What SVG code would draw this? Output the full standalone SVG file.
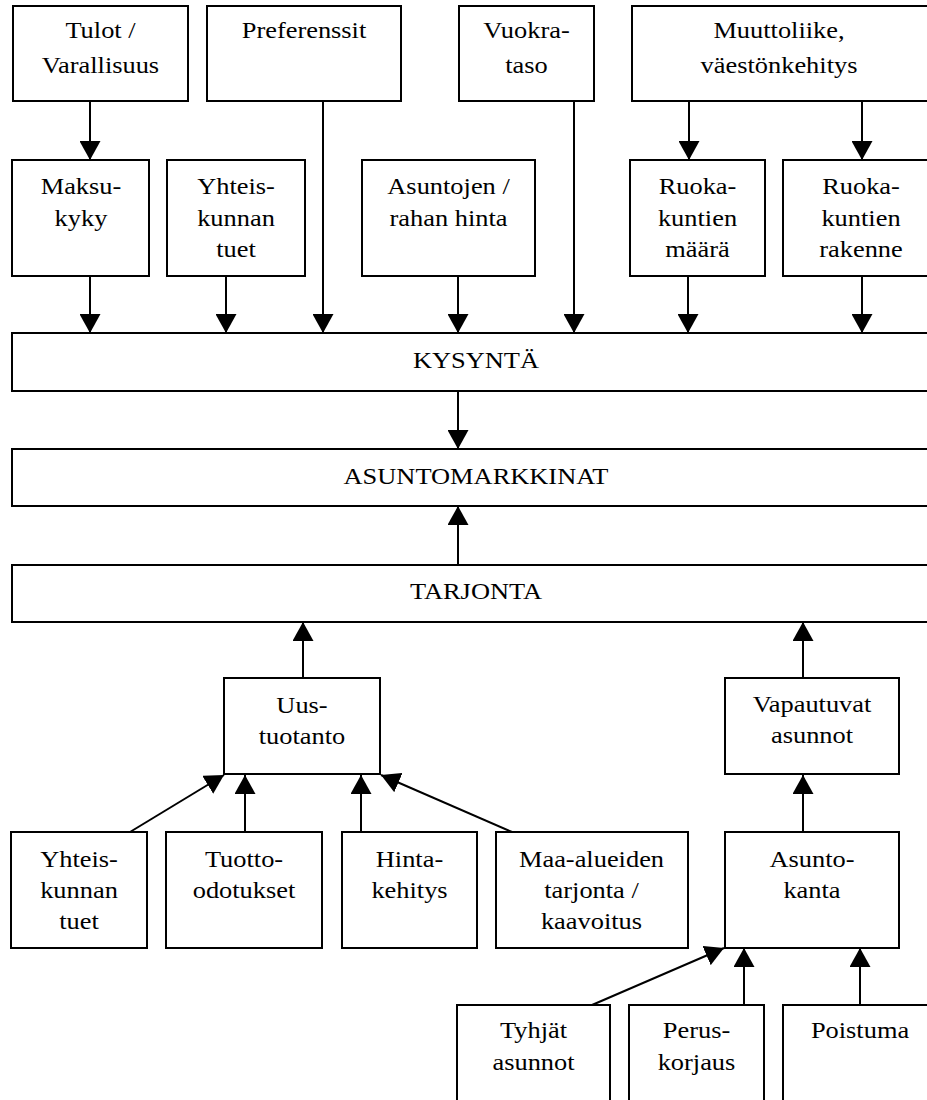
<svg xmlns="http://www.w3.org/2000/svg" width="927" height="1100" viewBox="0 0 927 1100">
<style>
  .box { fill: #fff; stroke: #000; stroke-width: 2; }
  .t { font-family: "Liberation Serif", "Times New Roman", serif; font-size: 24px; fill: #000; text-anchor: middle; }
  .c { stroke: #000; stroke-width: 2; fill: none; marker-end: url(#ah); }
</style>
<defs>
  <marker id="ah" markerUnits="userSpaceOnUse" markerWidth="20" markerHeight="21" refX="19" refY="10.5" orient="auto" viewBox="0 0 20 21">
    <path d="M0,0 L19,10.5 L0,21 z" fill="#000"/>
  </marker>
</defs>
<rect width="927" height="1100" fill="#fff"/>

<g id="connectors">
  <line class="c" x1="90" y1="101" x2="90" y2="160"/>
  <line class="c" x1="689" y1="101" x2="689" y2="160"/>
  <line class="c" x1="862" y1="101" x2="862" y2="160"/>
  <line class="c" x1="90" y1="276" x2="90" y2="333"/>
  <line class="c" x1="226" y1="276" x2="226" y2="333"/>
  <line class="c" x1="323" y1="101" x2="323" y2="333"/>
  <line class="c" x1="458" y1="276" x2="458" y2="333"/>
  <line class="c" x1="574" y1="101" x2="574" y2="333"/>
  <line class="c" x1="688" y1="276" x2="688" y2="333"/>
  <line class="c" x1="862" y1="276" x2="862" y2="333"/>
  <line class="c" x1="458" y1="391" x2="458" y2="449"/>
  <line class="c" x1="458" y1="565" x2="458" y2="506"/>
  <line class="c" x1="303" y1="678" x2="303" y2="622"/>
  <line class="c" x1="803" y1="678" x2="803" y2="622"/>
  <line class="c" x1="130" y1="832" x2="224" y2="775"/>
  <line class="c" x1="245" y1="832" x2="245" y2="775"/>
  <line class="c" x1="361" y1="832" x2="361" y2="775"/>
  <line class="c" x1="512" y1="832" x2="381" y2="775"/>
  <line class="c" x1="803" y1="832" x2="803" y2="775"/>
  <line class="c" x1="592" y1="1005" x2="724" y2="948"/>
  <line class="c" x1="744" y1="1005" x2="744" y2="948"/>
  <line class="c" x1="860" y1="1005" x2="860" y2="948"/>
</g>

<g id="tulot">
  <rect class="box" x="13" y="6" width="175" height="95"/>
  <g transform="translate(100.5 0) scale(1.1 1)"><text class="t" x="0" y="38">Tulot /</text><text class="t" x="0" y="73">Varallisuus</text></g>
</g>
<g id="preferenssit">
  <rect class="box" x="207" y="6" width="194" height="95"/>
  <g transform="translate(304 0) scale(1.1 1)"><text class="t" x="0" y="38">Preferenssit</text></g>
</g>
<g id="vuokrataso">
  <rect class="box" x="459" y="6" width="135" height="95"/>
  <g transform="translate(526.5 0) scale(1.1 1)"><text class="t" x="0" y="38">Vuokra-</text><text class="t" x="0" y="73">taso</text></g>
</g>
<g id="muuttoliike">
  <rect class="box" x="632" y="6" width="310" height="95"/>
  <g transform="translate(779 0) scale(1.1 1)"><text class="t" x="0" y="38">Muuttoliike,</text><text class="t" x="0" y="73">väestönkehitys</text></g>
</g>

<g id="maksukyky">
  <rect class="box" x="12" y="160" width="137" height="116"/>
  <g transform="translate(81 0) scale(1.1 1)"><text class="t" x="0" y="194">Maksu-</text><text class="t" x="0" y="226">kyky</text></g>
</g>
<g id="yhteiskunnan-tuet-1">
  <rect class="box" x="167" y="160" width="138" height="116"/>
  <g transform="translate(236 0) scale(1.1 1)"><text class="t" x="0" y="194">Yhteis-</text><text class="t" x="0" y="226">kunnan</text><text class="t" x="0" y="257">tuet</text></g>
</g>
<g id="asuntojen-hinta">
  <rect class="box" x="362" y="160" width="173" height="116"/>
  <g transform="translate(448.5 0) scale(1.1 1)"><text class="t" x="0" y="194">Asuntojen /</text><text class="t" x="0" y="226">rahan hinta</text></g>
</g>
<g id="ruokakuntien-maara">
  <rect class="box" x="630" y="160" width="135" height="116"/>
  <g transform="translate(697.5 0) scale(1.1 1)"><text class="t" x="0" y="194">Ruoka-</text><text class="t" x="0" y="226">kuntien</text><text class="t" x="0" y="257">määrä</text></g>
</g>
<g id="ruokakuntien-rakenne">
  <rect class="box" x="783" y="160" width="160" height="116"/>
  <g transform="translate(861 0) scale(1.1 1)"><text class="t" x="0" y="194">Ruoka-</text><text class="t" x="0" y="226">kuntien</text><text class="t" x="0" y="257">rakenne</text></g>
</g>

<g id="kysynta">
  <rect class="box" x="12" y="333" width="930" height="58"/>
  <g transform="translate(476 0) scale(1.1 1)"><text class="t" x="0" y="368">KYSYNTÄ</text></g>
</g>
<g id="asuntomarkkinat">
  <rect class="box" x="12" y="449" width="930" height="57"/>
  <g transform="translate(476 0) scale(1.1 1)"><text class="t" x="0" y="484">ASUNTOMARKKINAT</text></g>
</g>
<g id="tarjonta">
  <rect class="box" x="12" y="565" width="930" height="57"/>
  <g transform="translate(476 0) scale(1.1 1)"><text class="t" x="0" y="599">TARJONTA</text></g>
</g>

<g id="uustuotanto">
  <rect class="box" x="224" y="678" width="156" height="96"/>
  <g transform="translate(302 0) scale(1.1 1)"><text class="t" x="0" y="713">Uus-</text><text class="t" x="0" y="744">tuotanto</text></g>
</g>
<g id="vapautuvat">
  <rect class="box" x="725" y="678" width="174" height="96"/>
  <g transform="translate(812 0) scale(1.1 1)"><text class="t" x="0" y="712">Vapautuvat</text><text class="t" x="0" y="743">asunnot</text></g>
</g>

<g id="yhteiskunnan-tuet-2">
  <rect class="box" x="11" y="832" width="136" height="116"/>
  <g transform="translate(79 0) scale(1.1 1)"><text class="t" x="0" y="867">Yhteis-</text><text class="t" x="0" y="898">kunnan</text><text class="t" x="0" y="929">tuet</text></g>
</g>
<g id="tuotto-odotukset">
  <rect class="box" x="166" y="832" width="156" height="116"/>
  <g transform="translate(244 0) scale(1.1 1)"><text class="t" x="0" y="867">Tuotto-</text><text class="t" x="0" y="898">odotukset</text></g>
</g>
<g id="hintakehitys">
  <rect class="box" x="342" y="832" width="135" height="116"/>
  <g transform="translate(409.5 0) scale(1.1 1)"><text class="t" x="0" y="867">Hinta-</text><text class="t" x="0" y="898">kehitys</text></g>
</g>
<g id="maa-alueiden">
  <rect class="box" x="496" y="832" width="192" height="116"/>
  <g transform="translate(591.5 0) scale(1.1 1)"><text class="t" x="0" y="867">Maa-alueiden</text><text class="t" x="0" y="898">tarjonta /</text><text class="t" x="0" y="929">kaavoitus</text></g>
</g>
<g id="asuntokanta">
  <rect class="box" x="725" y="832" width="174" height="116"/>
  <g transform="translate(812 0) scale(1.1 1)"><text class="t" x="0" y="867">Asunto-</text><text class="t" x="0" y="898">kanta</text></g>
</g>

<g id="tyhjat">
  <rect class="box" x="457" y="1005" width="153" height="110"/>
  <g transform="translate(533.5 0) scale(1.1 1)"><text class="t" x="0" y="1038">Tyhjät</text><text class="t" x="0" y="1070">asunnot</text></g>
</g>
<g id="peruskorjaus">
  <rect class="box" x="629" y="1005" width="135" height="110"/>
  <g transform="translate(696.5 0) scale(1.1 1)"><text class="t" x="0" y="1038">Perus-</text><text class="t" x="0" y="1070">korjaus</text></g>
</g>
<g id="poistuma">
  <rect class="box" x="783" y="1005" width="160" height="110"/>
  <g transform="translate(860 0) scale(1.1 1)"><text class="t" x="0" y="1038">Poistuma</text></g>
</g>
</svg>
